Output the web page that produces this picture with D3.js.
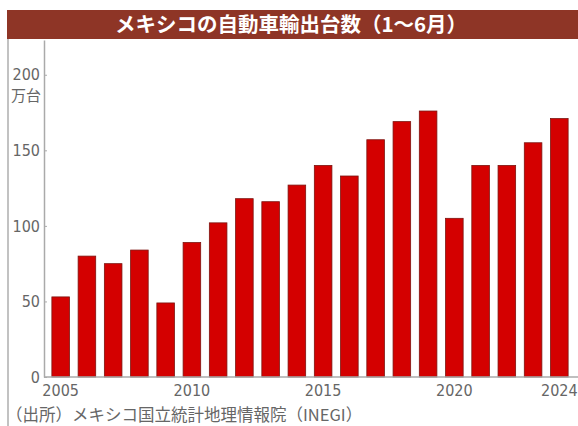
<!DOCTYPE html>
<html>
<head>
<meta charset="utf-8">
<script src="https://cdn.jsdelivr.net/npm/d3@7"></script>
<style>
  body { margin: 0; background: #fff; }
  svg { display: block; }
</style>
</head>
<body>
<svg id="chart"></svg>
<script>
// 1〜6月の自動車輸出台数（万台）
const years = [2005, 2006, 2007, 2008, 2009, 2010, 2011, 2012, 2013, 2014,
               2015, 2016, 2017, 2018, 2019, 2020, 2021, 2022, 2023, 2024];
const exports = [53, 80, 75, 84, 49, 89, 102, 118, 116, 127,
                 140, 133, 157, 169, 176, 105, 140, 140, 155, 171];
const yTicks = [0, 50, 100, 150, 200];
const xTicks = [2005, 2010, 2015, 2020, 2024];
const titleText = "メキシコの自動車輸出台数（1〜6月）";
const unitText = "万台";
const sourceText = "（出所）メキシコ国立統計地理情報院（INEGI）";

const width = 578;
const height = 426;
const margin = { top: 40, right: 2, bottom: 49, left: 44 };
const numFont = "'Liberation Sans Narrow', 'DejaVu Sans Condensed', 'Liberation Sans', sans-serif";
const jpFont = "'Noto Sans CJK JP', 'Noto Sans', sans-serif";

const svg = d3.select("#chart")
    .attr("width", width)
    .attr("height", height);

// タイトル帯
svg.append("rect")
    .attr("x", 7).attr("y", 10)
    .attr("width", width - 7).attr("height", 29)
    .attr("fill", "#8e3526");

svg.append("text")
    .attr("x", 291).attr("y", 31.5)
    .attr("text-anchor", "middle")
    .attr("fill", "#fff")
    .attr("font-family", jpFont)
    .attr("font-weight", "bold")
    .attr("font-size", "20.5px")
    .text(titleText);

// 左の枠線
svg.append("line")
    .attr("x1", 8).attr("x2", 8)
    .attr("y1", 39).attr("y2", height)
    .attr("stroke", "#999").attr("stroke-width", 1.2);

const x = d3.scaleBand()
    .domain(years)
    .range([margin.left, width - margin.right])
    .paddingInner(0.33)
    .paddingOuter(0.3);

const y = d3.scaleLinear()
    .domain([0, 223])
    .range([height - margin.bottom, margin.top]);

// bars
svg.selectAll(".bar")
    .data(years.map((yr, i) => ({ year: yr, value: exports[i] })))
    .enter().append("rect")
    .attr("class", "bar")
    .attr("x", d => x(d.year))
    .attr("width", x.bandwidth())
    .attr("y", d => y(d.value))
    .attr("height", d => y(0) - y(d.value))
    .attr("fill", "#d40000")
    .attr("stroke", "#7c1410")
    .attr("stroke-width", 0.8);

// y axis
const yAxis = svg.append("g")
    .attr("transform", `translate(${margin.left},0)`)
    .call(d3.axisLeft(y).tickValues(yTicks).tickSizeInner(-3).tickSizeOuter(0).tickPadding(4));
yAxis.select(".domain").attr("stroke", "#aaa").attr("stroke-width", 1.5);
yAxis.selectAll(".tick line").attr("stroke", "#aaa");
yAxis.selectAll("text")
    .attr("fill", "#666")
    .attr("font-family", numFont)
    .attr("font-size", "16px");

svg.append("text")
    .attr("x", margin.left - 3).attr("y", y(200) + 26)
    .attr("text-anchor", "end")
    .attr("fill", "#666")
    .attr("font-family", jpFont)
    .attr("font-size", "15px")
    .text(unitText);

// x axis
const xAxis = svg.append("g")
    .attr("transform", `translate(0,${y(0)})`)
    .call(d3.axisBottom(x).tickValues(xTicks).tickSize(0).tickPadding(8));
xAxis.select(".domain").remove();
xAxis.selectAll("text")
    .attr("fill", "#666")
    .attr("font-family", numFont)
    .attr("font-size", "16px");

svg.append("line")
    .attr("x1", margin.left).attr("x2", width)
    .attr("y1", y(0)).attr("y2", y(0))
    .attr("stroke", "#aaa").attr("stroke-width", 1.5);

// 出所
svg.append("text")
    .attr("x", 6).attr("y", 421)
    .attr("fill", "#666")
    .attr("font-family", jpFont)
    .attr("font-size", "16.5px")
    .text(sourceText);
</script>
</body>
</html>
